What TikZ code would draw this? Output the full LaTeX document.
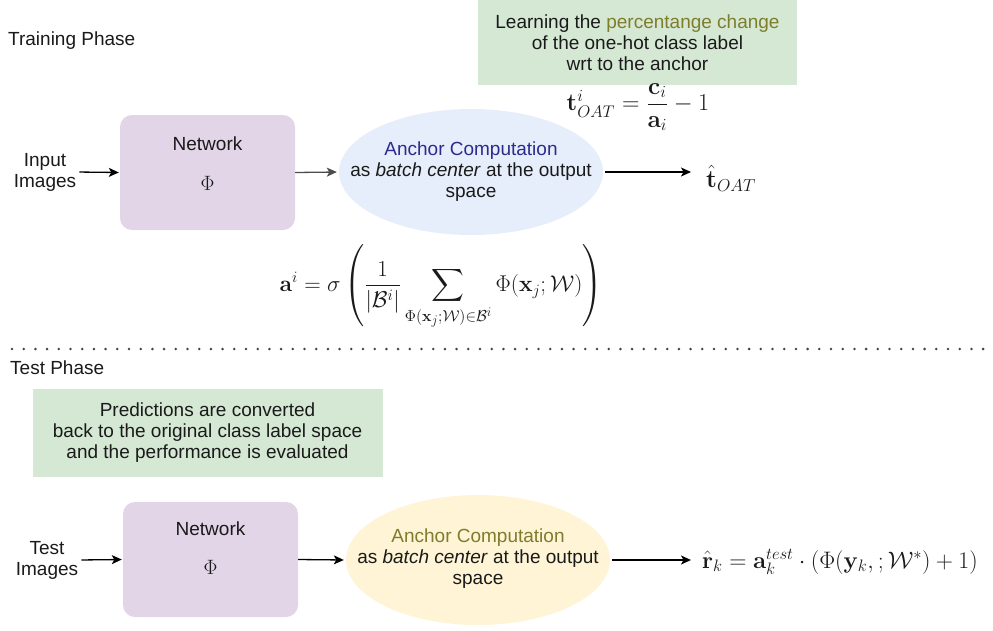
\documentclass[tikz,border=0pt]{standalone}
\usepackage[no-math]{fontspec}
\setmainfont{Liberation Sans}
\usepackage{amsmath,amssymb,graphicx}
\usetikzlibrary{arrows.meta,shapes.geometric}
\definecolor{netpurple}{HTML}{E1D5E7}
\definecolor{notegreen}{HTML}{D5E8D4}
\definecolor{ellblue}{HTML}{E7EEFB}
\definecolor{ellyellow}{HTML}{FFF4D5}
\definecolor{ancnavy}{HTML}{2B2B8C}
\definecolor{ancolive}{HTML}{7D7D2C}
\definecolor{txt}{HTML}{1A1A1A}
\definecolor{dotgray}{HTML}{444444}
\begin{document}
\begin{tikzpicture}[x=1pt,y=-1pt,
  font=\fontsize{19}{21}\selectfont, text=txt,
  netbox/.style={fill=netpurple, draw=none, rounded corners=12pt, minimum width=175pt, minimum height=115pt, inner sep=0pt},
  notebox/.style={fill=notegreen, draw=none, align=center, inner sep=0pt},
  anchell/.style={ellipse, draw=none, inner sep=0pt, minimum width=264pt, minimum height=126pt},
  lbl/.style={align=center, inner sep=0pt},
  mathlbl/.style={lbl, font=\fontsize{20.74}{24}\selectfont},
  arr/.style={-{Stealth[length=10pt,width=9pt,inset=2.5pt]}, line width=1.3pt, draw=black},
  garr/.style={arr, draw=black!70},
  dotline/.style={draw=dotgray, line width=2.8pt, line cap=round, dash pattern=on 0pt off 11.7pt}
]
\useasboundingbox (0,0) rectangle (993,630);

% ---------- Training phase ----------
\node[lbl, anchor=west] (trainlbl) at (8,41) {Training Phase};

\node[notebox, minimum width=319pt, minimum height=85pt] (g1) at (637.5,42.5)
  {Learning the \textcolor{ancolive}{percentange change}\\of the one-hot class label\\wrt to the anchor};

\node[mathlbl] (tform) at (638,107)
  {\scalebox{1.17}{$\mathbf{t}^{i}_{OAT}=\dfrac{\mathbf{c}_i}{\mathbf{a}_i}-1$}};

\node[lbl] (inp) at (45,172) {Input\\Images};

\node[netbox] (net1) at (207.5,172.5) {};
\node[lbl] (n1t) at (207.5,144) {Network};
\node[mathlbl] (n1p) at (207.5,183) {$\Phi$};

\node[anchell, fill=ellblue] (ell1) at (471,172) {};
\node[lbl] (e1t) at (471,172)
  {\textcolor{ancnavy}{Anchor Computation}\\as \textit{batch center} at the output\\space};

\node[mathlbl, anchor=west] (that) at (706,178) {\scalebox{1.2}{$\hat{\mathbf{t}}_{OAT}$}};
\coordinate (thatin) at (691,172);

\node[mathlbl] (aform) at (441,287)
  {\scalebox{1.1}{$\displaystyle \mathbf{a}^{i}=\sigma\left(\frac{1}{|\mathcal{B}^{i}|}\sum_{\Phi(\mathbf{x}_j;\mathcal{W})\in\mathcal{B}^{i}}\Phi(\mathbf{x}_j;\mathcal{W})\right)$}};

\draw[arr, shorten <=3pt, shorten >=1pt] (inp.east) -- (net1.west);
\draw[garr, shorten >=2pt] (net1.east) -- (ell1.west);
\draw[arr, shorten <=2pt] (ell1.east) -- (thatin);

% ---------- separator ----------
\coordinate (d1) at (12,349);
\coordinate (d2) at (993,349);
\draw[dotline] (d1) -- (d2);

% ---------- Test phase ----------
\node[lbl, anchor=west] (testlbl) at (10,368) {Test Phase};

\node[notebox, minimum width=350pt, minimum height=88pt] (g2) at (207.5,432.5)
  {Predictions are converted\\back to the original class label space\\and the performance is evaluated};

\node[lbl] (timg) at (47,560) {Test\\Images};

\node[netbox] (net2) at (210.5,559.5) {};
\node[lbl] (n2t) at (210.5,529) {Network};
\node[mathlbl] (n2p) at (210.5,567) {$\Phi$};

\node[anchell, fill=ellyellow, minimum height=130pt] (ell2) at (478,560) {};
\node[lbl] (e2t) at (478,559)
  {\textcolor{ancolive}{Anchor Computation}\\as \textit{batch center} at the output\\space};

\node[mathlbl, anchor=west] (rform) at (702,562)
  {\scalebox{1.15}{$\hat{\mathbf{r}}_{k}=\mathbf{a}_{k}^{test}\cdot\left(\Phi(\mathbf{y}_{k},;\mathcal{W}^{*})+1\right)$}};
\coordinate (rin) at (691,560);

\draw[arr, shorten <=3pt, shorten >=1pt] (timg.east) -- (net2.west);
\draw[arr, shorten >=2pt] (net2.east) -- (ell2.west);
\draw[arr, shorten <=2pt] (ell2.east) -- (rin);
\end{tikzpicture}
\end{document}
